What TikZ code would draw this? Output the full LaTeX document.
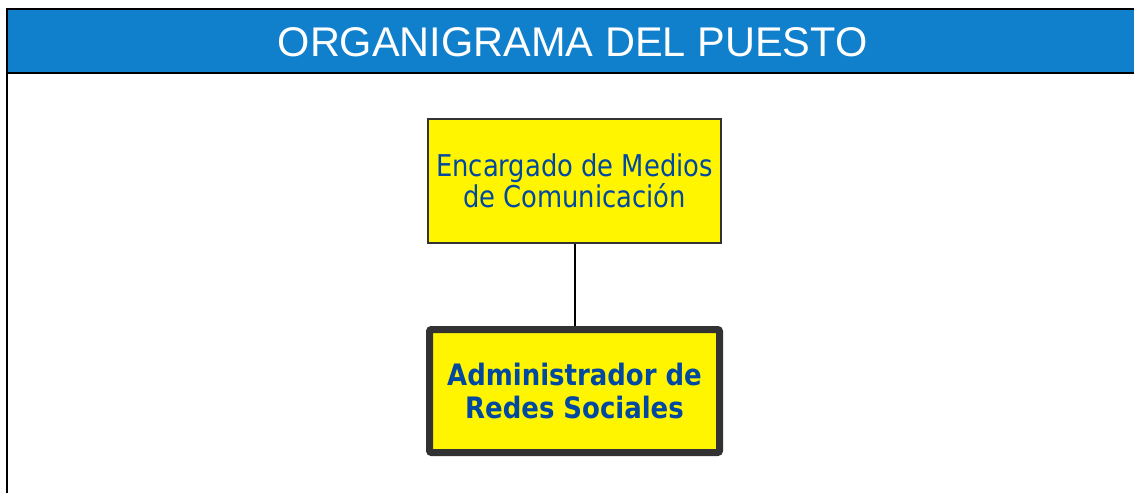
\documentclass[tikz,border=0pt]{standalone}
\usepackage{fontspec}
\setmainfont{Liberation Sans}
\newfontfamily\boxfont[FakeStretch=0.86]{DejaVu Sans}
\newfontfamily\boxfontbold[FakeStretch=0.88]{DejaVu Sans Bold}
\definecolor{hdrblue}{RGB}{16,128,204}
\definecolor{txtblue}{RGB}{0,72,160}
\definecolor{boxyellow}{RGB}{255,245,0}
\definecolor{boxgray}{RGB}{50,50,50}
\tikzset{
  posbox/.style={draw=boxgray, fill=boxyellow, line width=2pt, minimum width=293pt, minimum height=124pt, align=center, text=txtblue, inner sep=0pt},
  mainbox/.style={draw=boxgray, fill=boxyellow, line width=7pt, rounded corners=2pt, minimum width=290pt, minimum height=123pt, align=center, text=txtblue, inner sep=0pt},
  link/.style={draw=black, line width=2pt}
}
\begin{document}
\begin{tikzpicture}[x=1pt,y=-1pt]
\useasboundingbox (0,0) rectangle (1134,493);
\fill[hdrblue] (7,9) rectangle (1134,73);
\draw[line width=1.5pt] (7,9) -- (1134,9);
\draw[line width=2.5pt] (7,73) -- (1134,73);
\draw[line width=2.5pt] (7,8.25) -- (7,493);
\node[text=white, font=\fontsize{41.5}{45}\selectfont] (title) at (572.5,42) {ORGANIGRAMA DEL PUESTO};
\node[posbox, font=\boxfont\fontsize{30}{30}\selectfont] (jefe) at (574.5,181) {Encargado de Medios\\de Comunicación};
\node[mainbox, font=\boxfontbold\fontsize{29.5}{33}\selectfont] (puesto) at (574.5,391) {Administrador de\\Redes Sociales};
\draw[link] (jefe.south) -- (puesto.north);
\end{tikzpicture}
\end{document}
